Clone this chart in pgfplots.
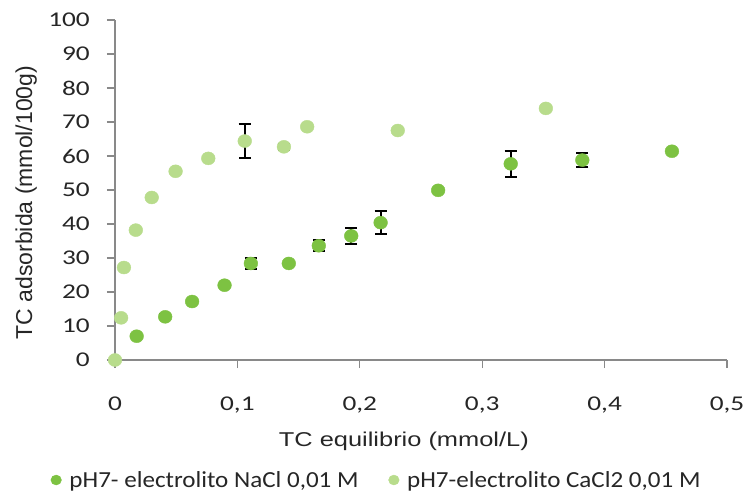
\documentclass[border=0pt]{standalone}
\usepackage{fontspec}
\usepackage{pgfplots}
\usepackage{pgfplotstable}
\pgfplotsset{compat=1.18}
\setmainfont{Carlito}
\newfontfamily\tickfont[FakeStretch=1.3]{Carlito}
\newfontfamily\legfont[FakeStretch=1.09]{Carlito}
\newfontfamily\labfont[FakeStretch=1.27]{Liberation Sans}
\newfontfamily\ylabfont{Liberation Sans}

\definecolor{nacl}{RGB}{125,194,66}
\definecolor{cacl}{RGB}{184,220,140}
\definecolor{axgray}{RGB}{137,137,137}

% x: TC equilibrio, y: TC adsorbida, e: standard deviation
\pgfplotstableread{
x       y     e
0.0177  7.0   0
0.041   12.7  0.7
0.063   17.2  0.4
0.0895  22.0  0.4
0.111   28.4  1.6
0.142   28.4  0
0.1665  33.6  1.6
0.193   36.5  2.4
0.217   40.4  3.3
0.264   49.9  0.5
0.3233  57.7  3.9
0.3818  58.8  2.0
0.455   61.4  0
}\nacldata

\pgfplotstableread{
x       y     e
0       0     0
0.005   12.4  0
0.0073  27.2  0.4
0.017   38.2  0.5
0.030   47.8  0
0.0495  55.5  0.4
0.0762  59.3  0.5
0.106   64.4  4.9
0.138   62.7  0.8
0.157   68.6  0.5
0.231   67.5  0
0.352   74.0  0.4
}\cacldata

\begin{document}
\begin{tikzpicture}
\begin{axis}[
  scale only axis,
  width=612pt, height=340pt,
  xmin=0, xmax=0.5, ymin=0, ymax=100,
  axis x line*=bottom, axis y line*=left,
  axis line style={axgray, line width=1.3pt},
  xtick={0,0.1,...,0.5}, ytick={0,10,...,100},
  tick align=outside, major tick length=8pt,
  tick style={axgray, line width=1.2pt},
  /pgf/number format/.cd, use comma, fixed, assume math mode=true,
  /pgfplots/.cd,
  xticklabel style={font=\tickfont\fontsize{21}{24}\selectfont, color=black!85, anchor=north, inner sep=0pt, yshift=-29pt},
  yticklabel style={font=\tickfont\fontsize{21}{24}\selectfont, color=black!85, anchor=east, inner sep=0pt, xshift=-17pt},
  xlabel={TC equilibrio (mmol/L)},
  xlabel style={font=\labfont\fontsize{20}{24}\selectfont, color=black!85, at={(axis description cs:0.472,-0.253)}, anchor=base},
  ylabel={TC adsorbida (mmol/100g)},
  ylabel style={font=\ylabfont\fontsize{23}{26}\selectfont, color=black!85, at={(axis description cs:-0.1356,0.463)}, anchor=base, rotate=0},
  legend columns=2,
  legend cell align=left,
  legend style={draw=none, fill=none, at={(axis description cs:-0.11,-0.353)}, anchor=west,
    font=\legfont\fontsize{23}{26}\selectfont, text=black!85,
    /tikz/every odd column/.append style={column sep=6pt},
    /tikz/every even column/.append style={column sep=28pt}},
  legend image code/.code={\draw[#1, mark size=5pt] plot coordinates {(4pt,0pt)};},
]
% error bars first, so the markers sit on top of them
\addplot[only marks, mark=none, forget plot, error bars/.cd, y dir=both, y explicit,
  error bar style={draw=black, solid, line width=2pt},
  error mark options={draw=black, solid, rotate=90, mark size=6pt, line width=2pt}]
  table[x=x, y=y, y error=e] {\nacldata};
\addplot[only marks, mark=none, forget plot, error bars/.cd, y dir=both, y explicit,
  error bar style={draw=black, solid, line width=2pt},
  error mark options={draw=black, solid, rotate=90, mark size=6pt, line width=2pt}]
  table[x=x, y=y, y error=e] {\cacldata};
\addplot[only marks, mark=*, mark size=6.5pt, color=nacl, mark options={draw=none, fill=nacl, xscale=1.06}]
  table[x=x, y=y] {\nacldata};
\addlegendentry{pH7- electrolito NaCl 0,01 M}
\addplot[only marks, mark=*, mark size=6.5pt, color=cacl, mark options={draw=none, fill=cacl, xscale=1.06}]
  table[x=x, y=y] {\cacldata};
\addlegendentry{pH7-electrolito CaCl2 0,01 M}
\end{axis}
\pgfresetboundingbox
\path[use as bounding box] ([xshift=-115pt,yshift=-133pt]current axis.south west) rectangle ++(746pt,493pt);
\end{tikzpicture}
\end{document}
